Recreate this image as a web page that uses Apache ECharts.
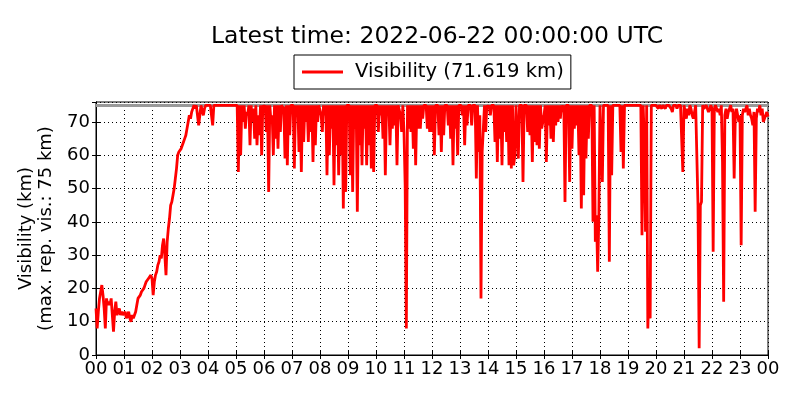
<!DOCTYPE html>
<html>
<head>
<meta charset="utf-8">
<title>Visibility</title>
<script src="https://cdn.jsdelivr.net/npm/echarts@6/dist/echarts.min.js"></script>
<style>
  html, body { margin: 0; padding: 0; background: #fff; }
  #main { width: 800px; height: 400px; }
</style>
</head>
<body>
<div id="main"></div>
<script>
// x tick labels (hours, UTC)
var hourLabels = ['00','01','02','03','04','05','06','07','08','09','10','11',
                  '12','13','14','15','16','17','18','19','20','21','22','23','00'];

// visibility in km, one value every 2.5 minutes (24 per hour)
var vis = [
  14, 8, 13, 17, 19, 21, 18, 14, 8, 17, 15, 16, 15, 17, 12, 7, 13, 16, 12, 13, 14, 12, 13, 12,           // 00
  12, 13, 11, 12, 13, 11, 10, 12, 11, 12, 13, 15, 17, 17, 18, 19, 19, 20, 21, 22, 22, 23, 23, 24,        // 01
  23, 18, 22, 24, 25, 27, 28, 30, 29, 33, 35, 30, 24, 34, 38, 41, 45, 46, 48, 50, 53, 56, 60, 61,        // 02
  61, 62, 63, 64, 65, 66, 68, 70, 72, 71, 73, 74, 75, 74, 75, 75, 69, 72, 75, 75, 72, 74, 75, 75,        // 03
  75, 75, 75, 75, 69, 75, 75, 75, 75, 75, 75, 75, 75, 75, 75, 75, 75, 75, 75, 75, 75, 75, 75, 75,        // 04
  75, 75, 55, 75, 60, 75, 70, 75, 68, 73, 72, 75, 63, 75, 70, 74, 65, 75, 63, 72, 66, 75, 60, 75,        // 05
  74, 75, 67, 75, 49, 75, 70, 72, 60, 75, 65, 75, 62, 75, 67, 75, 75, 74, 59, 75, 57, 75, 66, 75,        // 06
  75, 75, 56, 75, 72, 75, 61, 75, 55, 75, 64, 75, 70, 75, 64, 75, 67, 75, 58, 75, 63, 75, 70, 75,        // 07
  75, 72, 67, 75, 72, 75, 54, 75, 60, 75, 68, 75, 51, 75, 63, 75, 54, 75, 60, 75, 44, 75, 49, 75,        // 08
  75, 75, 54, 75, 49, 75, 68, 75, 43, 75, 63, 75, 57, 75, 68, 75, 57, 75, 63, 75, 56, 75, 55, 75,        // 09
  75, 75, 67, 75, 72, 75, 65, 75, 54, 75, 72, 75, 63, 75, 68, 75, 69, 75, 57, 75, 75, 72, 67, 75,        // 10
  67, 51, 8, 75, 68, 75, 67, 75, 62, 75, 57, 75, 68, 75, 68, 75, 71, 75, 75, 75, 68, 75, 67, 75,         // 11
  67, 75, 60, 75, 75, 75, 66, 75, 61, 75, 66, 75, 75, 75, 69, 75, 65, 75, 57, 75, 68, 75, 60, 75,        // 12
  75, 75, 72, 75, 63, 75, 69, 75, 75, 75, 69, 75, 75, 75, 53, 75, 61, 72, 17, 61, 61, 75, 67, 75,        // 13
  74, 75, 72, 75, 75, 75, 64, 75, 58, 75, 65, 75, 57, 75, 67, 75, 64, 75, 57, 75, 56, 75, 57, 60,        // 14
  75, 75, 59, 75, 75, 75, 52, 75, 75, 75, 67, 75, 66, 75, 58, 75, 64, 75, 63, 75, 62, 75, 68, 70,        // 15
  72, 75, 58, 75, 69, 75, 65, 75, 64, 75, 69, 75, 70, 75, 71, 75, 73, 75, 46, 75, 75, 75, 52, 75,        // 16
  62, 75, 68, 75, 69, 75, 60, 75, 44, 75, 48, 75, 59, 75, 65, 75, 75, 75, 40, 75, 34, 42, 25, 41,        // 17
  75, 75, 52, 75, 75, 75, 75, 75, 28, 75, 54, 75, 75, 75, 75, 75, 75, 75, 61, 75, 56, 75, 75, 75,        // 18
  75, 75, 75, 75, 75, 75, 75, 75, 75, 75, 75, 75, 36, 75, 64, 37, 75, 8, 22, 11, 75, 75, 75, 75,         // 19
  75, 75, 74, 75, 75, 74, 75, 75, 74, 75, 75, 75, 75, 74, 73, 75, 75, 75, 74, 75, 75, 75, 75, 55,        // 20
  75, 73, 71, 74, 72, 75, 74, 72, 71, 73, 75, 75, 45, 2, 45, 46, 75, 74, 74, 75, 74, 73, 74, 75,         // 21
  74, 31, 74, 75, 74, 73, 74, 72, 75, 58, 16, 72, 74, 71, 73, 74, 75, 73, 74, 53, 72, 74, 74, 70,        // 22
  72, 33, 72, 74, 73, 74, 75, 72, 74, 72, 71, 69, 73, 43, 71, 74, 73, 75, 72, 74, 70, 71, 72, 73,        // 23
  71.619                                                                                                // 24
];

var maxRepVis = 75;
var stepHours = 2.5 / 60;

var points = [];
for (var i = 0; i < vis.length; i++) {
    points.push([i * stepHours, vis[i]]);
}
var latest = vis[vis.length - 1];
var seriesName = 'Visibility (' + latest.toFixed(3) + ' km)';

var chart = echarts.init(document.getElementById('main'), null, {renderer: 'canvas'});

var font = 'DejaVu Sans';
chart.setOption({
    animation: false,
    backgroundColor: '#fff',
    title: {
        text: 'Latest time: 2022-06-22 00:00:00 UTC',
        left: 432,
        top: 20,
        textAlign: 'center',
        textStyle: { fontFamily: font, fontSize: 23.5, fontWeight: 'normal', color: '#000' }
    },
    legend: {
        left: 294,
        top: 55,
        data: [seriesName],
        icon: 'rect',
        itemWidth: 41,
        itemHeight: 3,
        padding: [7, 7, 7, 8],
        borderColor: '#000',
        borderWidth: 1,
        borderRadius: 0,
        textStyle: { fontFamily: font, fontSize: 19.6, color: '#000', padding: [0, 0, 0, 7] }
    },
    grid: {
        left: 96, right: 32, top: 102, bottom: 45,
        show: true, borderColor: '#000', borderWidth: 1, backgroundColor: 'transparent'
    },
    xAxis: [{
        type: 'value',
        min: 0, max: 24, interval: 1,
        axisLine: { show: true, lineStyle: { color: '#000', width: 1 } },
        axisTick: { show: true, inside: true, length: 4, lineStyle: { color: '#000' } },
        axisLabel: {
            fontFamily: font, fontSize: 18, color: '#000', margin: 5,
            formatter: function (v) { return hourLabels[Math.round(v)]; }
        },
        splitLine: { show: true, lineStyle: { color: '#000', type: [1, 3], width: 1 } }
    }, {
        type: 'value', position: 'top',
        min: 0, max: 24, interval: 1,
        axisLine: { show: true, lineStyle: { color: '#000' } },
        axisTick: { show: true, inside: true, length: 4, lineStyle: { color: '#000' } },
        axisLabel: { show: false },
        splitLine: { show: false }
    }],
    yAxis: [{
        type: 'value',
        min: 0, max: 76, interval: 10,
        name: 'Visibility (km)\n(max. rep. vis.: 75 km)',
        nameLocation: 'middle',
        nameRotate: 90,
        nameGap: 30,
        nameTextStyle: { fontFamily: font, fontSize: 18, color: '#000', lineHeight: 20 },
        axisLine: { show: true, lineStyle: { color: '#000' } },
        axisTick: { show: true, inside: true, length: 4, lineStyle: { color: '#000' } },
        axisLabel: { fontFamily: font, fontSize: 18, color: '#000', margin: 6, showMaxLabel: false },
        splitLine: { show: true, lineStyle: { color: '#000', type: [1, 3], width: 1 } }
    }, {
        type: 'value', position: 'right',
        min: 0, max: 76, interval: 10,
        axisLine: { show: true, lineStyle: { color: '#000' } },
        axisTick: { show: true, inside: true, length: 4, lineStyle: { color: '#000' } },
        axisLabel: { show: false },
        splitLine: { show: false }
    }],
    series: [{
        name: seriesName,
        type: 'line',
        data: points,
        z: 3,
        showSymbol: false,
        symbol: 'none',
        lineStyle: { color: '#ff0000', width: 2.8 },
        itemStyle: { color: '#ff0000' },
        markLine: {
            z: 1,
            silent: true,
            symbol: 'none',
            label: { show: false },
            lineStyle: { color: '#999', width: 3, type: 'solid' },
            data: [{ yAxis: maxRepVis }]
        }
    }]
});
</script>
</body>
</html>
